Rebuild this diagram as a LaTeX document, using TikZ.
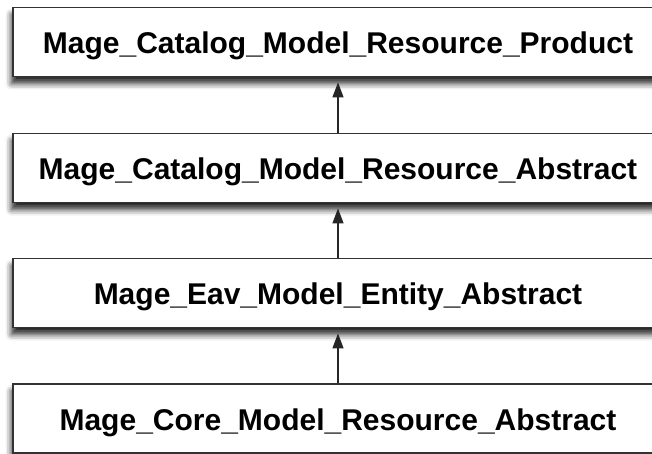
\documentclass[tikz,border=0pt]{standalone}
\usepackage{fontspec}
\setmainfont{Liberation Sans}
\usetikzlibrary{arrows.meta,shadows.blur}
\begin{document}
\begin{tikzpicture}[x=1pt,y=-1pt,
  classbox/.style={draw=black!80, line width=1.8pt, fill=white,
    minimum width=650pt, minimum height=69pt, inner sep=0pt,
    text height=23pt, text depth=0pt,
    font=\fontsize{30}{34}\selectfont\bfseries,
    blur shadow={shadow xshift=-1.5pt, shadow yshift=-7pt, shadow blur radius=6pt, shadow opacity=85}},
  inherit/.style={draw=black!85, line width=1.3pt, -{Triangle[length=15pt,width=11pt]}, shorten >=5pt}]
\useasboundingbox (0,0) rectangle (652,454);
\begin{scope}
\clip (0,0) rectangle (652,454);
\node[classbox] (prod) at (338,42) {Mage\_Catalog\_Model\_Resource\_Product};
\node[classbox] (cabs) at (338,168) {Mage\_Catalog\_Model\_Resource\_Abstract};
\node[classbox] (eav) at (338,293) {Mage\_Eav\_Model\_Entity\_Abstract};
\node[classbox] (core) at (338,418.5) {Mage\_Core\_Model\_Resource\_Abstract};
\draw[inherit] (cabs.north) -- (prod.south);
\draw[inherit] (eav.north) -- (cabs.south);
\draw[inherit] (core.north) -- (eav.south);
\end{scope}
\end{tikzpicture}
\end{document}
